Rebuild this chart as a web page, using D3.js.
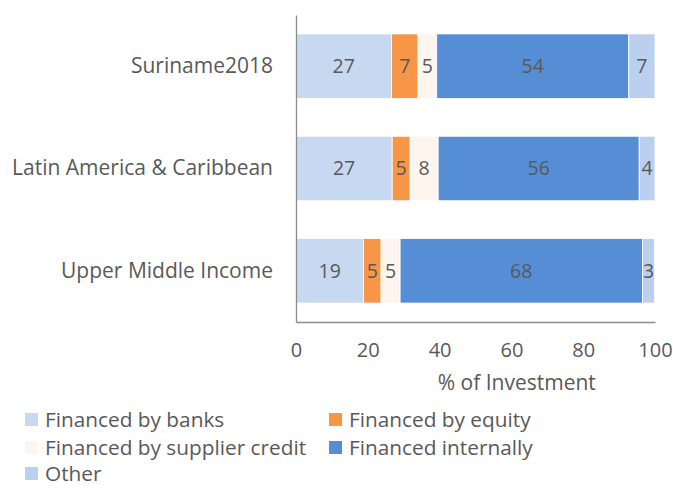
<!DOCTYPE html>
<html lang="en">
<head>
<meta charset="UTF-8">
<title>Sources of investment finance</title>
<script src="https://d3js.org/d3.v7.min.js"></script>
<style>
    body { margin: 0; background: #fff; }
    svg text { font-family: "Open Sans", "Noto Sans", sans-serif; fill: #595959; }
    .axis path { stroke: #8c8c8c; stroke-width: 1.3; }
    .axis line { display: none; }
</style>
</head>
<body>
<svg width="673" height="489"></svg>
<script>
    // chart data
    const categories = ["Suriname2018", "Latin America & Caribbean", "Upper Middle Income"];
    const seriesNames = ["Financed by banks", "Financed by equity", "Financed by supplier credit", "Financed internally", "Other"];
    const banks = [26.6, 26.8, 18.8];
    const equity = [7.4, 5.0, 4.9];
    const supplier = [5.2, 7.8, 5.3];
    const internal = [53.5, 56.0, 67.5];
    const other = [7.3, 4.4, 3.4];
    const xTicks = [0, 20, 40, 60, 80, 100];
    const colors = ["#c6d9f1", "#f79646", "#fef6ee", "#558ed5", "#bbd0ee"];

    const svg = d3.select("svg");
    const margin = { top: 15, right: 18, bottom: 167, left: 296 };
    const width = +svg.attr("width") - margin.left - margin.right;
    const height = +svg.attr("height") - margin.top - margin.bottom;

    const rows = categories.map((c, i) => ({
        cat: c,
        v: [banks[i], equity[i], supplier[i], internal[i], other[i]]
    }));

    const x = d3.scaleLinear().domain([0, 100]).range([0, width]);
    const y = d3.scaleBand().domain(categories).range([0, height]).paddingInner(0.37).paddingOuter(0.185);

    const g = svg.append("g").attr("transform", `translate(${margin.left},${margin.top})`);

    // stacked bars
    rows.forEach(r => {
        let acc = 0;
        r.v.forEach((val, k) => {
            const x0 = acc;
            acc += val;
            g.append("rect")
                .attr("x", x(x0))
                .attr("y", y(r.cat))
                .attr("width", x(acc) - x(x0))
                .attr("height", y.bandwidth())
                .attr("fill", colors[k])
                .attr("stroke", "#fff")
                .attr("stroke-width", 0.8);
            g.append("text")
                .attr("x", x(x0 + val / 2))
                .attr("y", y(r.cat) + y.bandwidth() / 2)
                .attr("dy", "0.35em")
                .attr("text-anchor", "middle")
                .style("font-size", "19.5px")
                .text(Math.round(val));
        });
    });

    // axes
    g.append("g")
        .attr("class", "axis")
        .attr("transform", `translate(0,${height})`)
        .call(d3.axisBottom(x).tickValues(xTicks).tickSize(0).tickPadding(21).tickSizeOuter(0))
        .call(a => a.selectAll("text").style("font-size", "20px").attr("fill", "#595959"));

    g.append("g")
        .attr("class", "axis")
        .call(d3.axisLeft(y).tickSize(0).tickPadding(23).tickSizeOuter(0))
        .call(a => a.selectAll("text").style("font-size", "21px").attr("fill", "#595959"));

    g.append("text")
        .attr("x", x(61.5))
        .attr("y", height + 68)
        .attr("text-anchor", "middle")
        .style("font-size", "21px")
        .text("% of Investment");

    // legend
    const legendPos = [[25, 420], [329, 420], [25, 448], [329, 448], [25, 474]];
    seriesNames.forEach((name, k) => {
        const [lx, ly] = legendPos[k];
        svg.append("rect")
            .attr("x", lx).attr("y", ly - 7)
            .attr("width", 13).attr("height", 13)
            .attr("fill", colors[k]);
        svg.append("text")
            .attr("x", lx + 20).attr("y", ly)
            .attr("dy", "0.35em")
            .style("font-size", "20.8px")
            .text(name);
    });
</script>
</body>
</html>
